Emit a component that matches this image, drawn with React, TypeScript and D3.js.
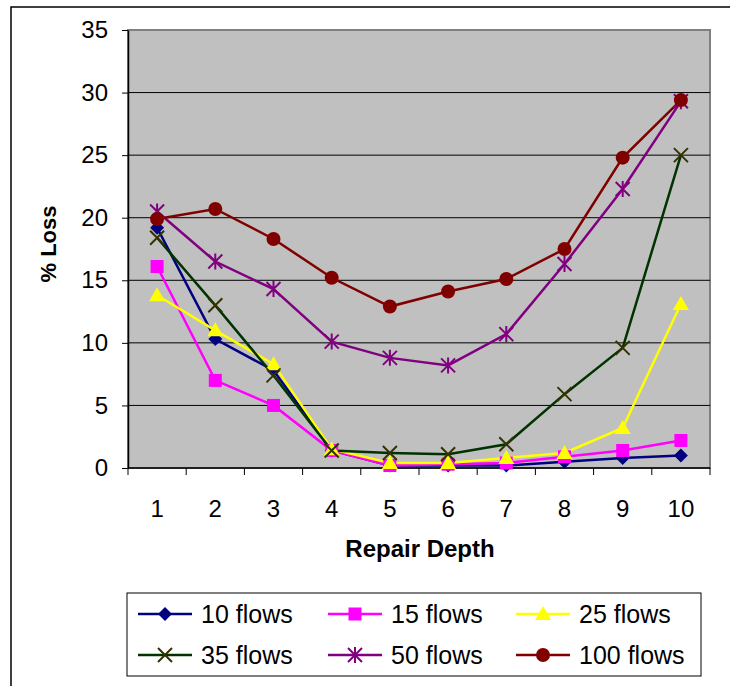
import React, { useEffect, useRef } from "react";
import * as d3 from "d3";

const depths = [1, 2, 3, 4, 5, 6, 7, 8, 9, 10];
const yTicks = [0, 5, 10, 15, 20, 25, 30, 35];

const flows10 = [19.2, 10.3, 7.8, 1.4, 0.2, 0.2, 0.2, 0.5, 0.8, 1.0];
const flows15 = [16.1, 7.0, 5.0, 1.4, 0.2, 0.3, 0.4, 0.9, 1.4, 2.2];
const flows25 = [13.8, 11.0, 8.3, 1.5, 0.4, 0.4, 0.8, 1.2, 3.2, 13.1];
const flows35 = [18.4, 13.0, 7.4, 1.4, 1.2, 1.1, 1.9, 5.9, 9.6, 25.0];
const flows50 = [20.5, 16.5, 14.3, 10.1, 8.8, 8.2, 10.7, 16.3, 22.3, 29.3];
const flows100 = [19.9, 20.7, 18.3, 15.2, 12.9, 14.1, 15.1, 17.5, 24.8, 29.4];

const seriesNames = ["10 flows", "15 flows", "25 flows", "35 flows", "50 flows", "100 flows"];

const series = [
  { name: seriesNames[0], values: flows10, line: "#000080", mark: "#000080", shape: "diamond" },
  { name: seriesNames[1], values: flows15, line: "#ff00ff", mark: "#ff00ff", shape: "square" },
  { name: seriesNames[2], values: flows25, line: "#ffff00", mark: "#ffff00", shape: "triangle" },
  { name: seriesNames[3], values: flows35, line: "#003300", mark: "#333300", shape: "x" },
  { name: seriesNames[4], values: flows50, line: "#800080", mark: "#800080", shape: "star" },
  { name: seriesNames[5], values: flows100, line: "#800000", mark: "#800000", shape: "circle" },
];

const FONT = "'Liberation Sans', Arial, sans-serif";

function drawMarker(g: any, shape: string, cx: number, cy: number, color: string) {
  if (shape === "diamond") {
    g.append("path")
      .attr("d", `M${cx},${cy - 7}L${cx + 7},${cy}L${cx},${cy + 7}L${cx - 7},${cy}Z`)
      .attr("fill", color);
  } else if (shape === "square") {
    g.append("rect")
      .attr("x", cx - 6.5).attr("y", cy - 6.5)
      .attr("width", 13).attr("height", 13)
      .attr("fill", color);
  } else if (shape === "triangle") {
    g.append("path")
      .attr("d", `M${cx},${cy - 8}L${cx + 8},${cy + 6}L${cx - 8},${cy + 6}Z`)
      .attr("fill", color);
  } else if (shape === "x") {
    g.append("path")
      .attr("d", `M${cx - 7},${cy - 7}L${cx + 7},${cy + 7}M${cx + 7},${cy - 7}L${cx - 7},${cy + 7}`)
      .attr("stroke", color).attr("stroke-width", 2).attr("fill", "none");
  } else if (shape === "star") {
    g.append("path")
      .attr("d", `M${cx - 7},${cy - 7}L${cx + 7},${cy + 7}M${cx + 7},${cy - 7}L${cx - 7},${cy + 7}M${cx},${cy - 8}L${cx},${cy + 8}`)
      .attr("stroke", color).attr("stroke-width", 2).attr("fill", "none");
  } else {
    g.append("circle").attr("cx", cx).attr("cy", cy).attr("r", 7).attr("fill", color);
  }
}

function Chart() {
  const svgRef = useRef<SVGSVGElement>(null);

  useEffect(() => {
    const w = 730;
    const h = 686;
    const left = 128;
    const right = 710;
    const top = 30;
    const bottom = 468;

    const svg = d3.select(svgRef.current).attr("width", w).attr("height", h);
    svg.selectAll("*").remove();

    // outer frame
    svg.append("rect")
      .attr("x", 11).attr("y", 7)
      .attr("width", 740).attr("height", 700)
      .attr("fill", "#fff").attr("stroke", "#000").attr("stroke-width", 1.5);

    const x = d3.scaleBand<number>().domain(depths).range([left, right]);
    const y = d3.scaleLinear().domain([0, 35]).range([bottom, top]);

    svg.append("rect")
      .attr("x", left).attr("y", top)
      .attr("width", right - left).attr("height", bottom - top)
      .attr("fill", "#c0c0c0").attr("stroke", "#808080").attr("stroke-width", 2);

    // gridlines
    svg.append("g")
      .selectAll("line")
      .data(yTicks.filter((t) => t > 0 && t < 35))
      .join("line")
      .attr("x1", left).attr("x2", right)
      .attr("y1", (d) => y(d)).attr("y2", (d) => y(d))
      .attr("stroke", "#000").attr("stroke-width", 1);

    const yAxis = d3.axisLeft(y).tickValues(yTicks).tickSize(6).tickPadding(14).tickSizeOuter(0);
    const gy = svg.append("g").attr("transform", `translate(${left},0)`).call(yAxis);
    gy.select(".domain").attr("stroke", "#000").attr("stroke-width", 1.5);
    gy.selectAll("line").attr("stroke", "#000");
    gy.selectAll("text").attr("font-family", FONT).attr("font-size", 24).attr("fill", "#000");

    // x axis: ticks at band boundaries
    const gx = svg.append("g");
    gx.append("line")
      .attr("x1", left).attr("x2", right)
      .attr("y1", bottom).attr("y2", bottom)
      .attr("stroke", "#000").attr("stroke-width", 1.5);
    gx.selectAll(".tk")
      .data(depths.concat([11]))
      .join("line")
      .attr("x1", (d) => (d <= 10 ? (x(d) as number) : right))
      .attr("x2", (d) => (d <= 10 ? (x(d) as number) : right))
      .attr("y1", bottom).attr("y2", bottom + 7)
      .attr("stroke", "#000");
    gx.selectAll("text")
      .data(depths)
      .join("text")
      .attr("x", (d) => (x(d) as number) + x.bandwidth() / 2)
      .attr("y", 517)
      .attr("text-anchor", "middle")
      .attr("font-family", FONT).attr("font-size", 24)
      .text((d) => d);

    svg.append("text")
      .attr("x", 420).attr("y", 557)
      .attr("text-anchor", "middle")
      .attr("font-family", FONT).attr("font-size", 24).attr("font-weight", "bold")
      .text("Repair Depth");

    svg.append("text")
      .attr("transform", `translate(56,244) rotate(-90)`)
      .attr("text-anchor", "middle")
      .attr("font-family", FONT).attr("font-size", 22).attr("font-weight", "bold")
      .text("% Loss");

    const line = d3.line<number>()
      .x((_, i) => (x(depths[i]) as number) + x.bandwidth() / 2)
      .y((d) => y(d));

    series.forEach((s) => {
      svg.append("path")
        .attr("d", line(s.values))
        .attr("fill", "none")
        .attr("stroke", s.line)
        .attr("stroke-width", 2.5);
    });
    series.forEach((s) => {
      const g = svg.append("g");
      s.values.forEach((v, i) => {
        drawMarker(g, s.shape, (x(depths[i]) as number) + x.bandwidth() / 2, y(v), s.mark);
      });
    });

    // legend
    const lg = svg.append("g");
    lg.append("rect")
      .attr("x", 127).attr("y", 593)
      .attr("width", 574).attr("height", 83)
      .attr("fill", "#fff").attr("stroke", "#000").attr("stroke-width", 1);
    const colX = [138, 328, 516];
    const rowY = [614, 655];
    series.forEach((s, i) => {
      const cx = colX[i % 3];
      const cy = rowY[Math.floor(i / 3)];
      lg.append("line")
        .attr("x1", cx).attr("x2", cx + 54)
        .attr("y1", cy).attr("y2", cy)
        .attr("stroke", s.line).attr("stroke-width", 2.5);
      drawMarker(lg, s.shape, cx + 27, cy, s.mark);
      lg.append("text")
        .attr("x", cx + 63).attr("y", cy + 9)
        .attr("font-family", FONT).attr("font-size", 25)
        .text(s.name);
    });
  }, []);

  return <svg ref={svgRef} style={{ position: "absolute", left: 0, top: 0 }}></svg>;
}

export default function App() {
  return (
    <div>
      <Chart />
    </div>
  );
}
